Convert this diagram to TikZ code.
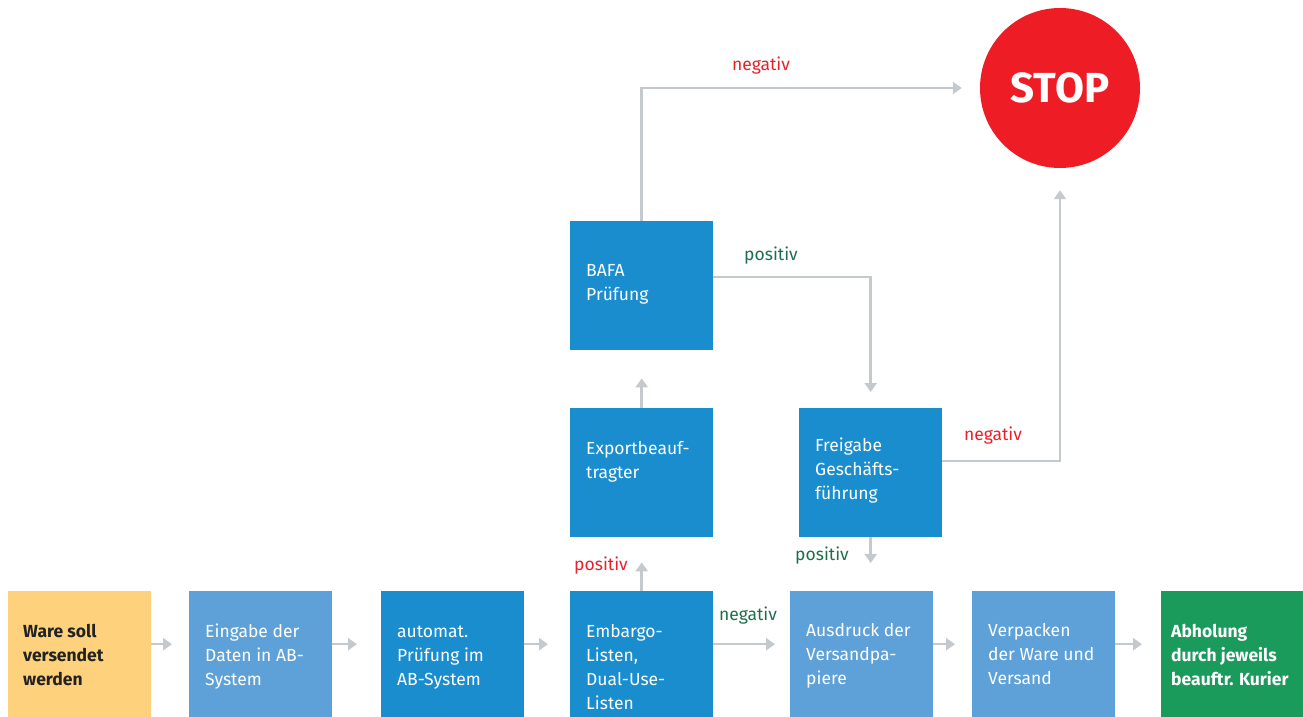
\documentclass[tikz,border=0pt]{standalone}
\usepackage{fontspec}
\setmainfont{Fira Sans}
\usetikzlibrary{arrows.meta}
\definecolor{cYel}{HTML}{FED27D}
\definecolor{cLight}{HTML}{5EA1D8}
\definecolor{cDark}{HTML}{198DCE}
\definecolor{cGreen}{HTML}{1A9A5B}
\definecolor{cRed}{HTML}{EE1C25}
\definecolor{cGray}{HTML}{C4C9CD}
\definecolor{cLabRed}{HTML}{E8202A}
\definecolor{cLabGreen}{HTML}{1E6E4E}
\definecolor{cInk}{HTML}{222222}
\tikzset{
  box/.style={draw=none, rectangle, anchor=north west, minimum width=143pt, inner sep=0pt},
  txt/.style={anchor=north west, inner sep=0pt, align=left, text=white, font={\fontsize{17.5}{24}\selectfont}},
  arr/.style={draw=cGray, line width=2.5pt, -{Triangle[width=12pt,length=9pt]}},
  lab/.style={inner sep=0pt, font={\fontsize{17.5}{24}\selectfont}},
}
\begin{document}
\begin{tikzpicture}[x=1pt,y=-1pt]
\useasboundingbox (0,0) rectangle (1303,717);
% boxes bottom row
\node[box, fill=cYel,   minimum height=126pt] (ware) at (8,591) {};
\node[box, fill=cLight, minimum height=126pt] (eing) at (189,591) {};
\node[box, fill=cDark,  minimum height=126pt] (auto) at (381,591) {};
\node[box, fill=cDark,  minimum height=126pt] (emb)  at (570,591) {};
\node[box, fill=cLight, minimum height=126pt] (ausd) at (790,591) {};
\node[box, fill=cLight, minimum height=126pt] (verp) at (972,591) {};
\node[box, fill=cGreen, minimum height=126pt, minimum width=142pt] (abh) at (1161,591) {};
% upper boxes
\node[box, fill=cDark, minimum height=129pt] (exp)  at (570,408) {};
\node[box, fill=cDark, minimum height=129pt] (bafa) at (570,221) {};
\node[box, fill=cDark, minimum height=129pt] (frei) at (799,408) {};
% stop
\node[circle, fill=cRed, minimum size=160pt, inner sep=0pt] (stop) at (1060,88) {};
\node[text=white, font={\fontsize{42}{48}\selectfont\bfseries}] (stoptxt) at (1060,88) {STOP};
% texts
\node[txt, text=cInk, font={\fontsize{17.5}{24}\selectfont\bfseries}] (tware) at (23,620) {\strut Ware soll\\versendet\\werden};
\node[txt] (teing) at (205,620) {\strut Eingabe der\\Daten in AB-\\System};
\node[txt] (tauto) at (397,620) {\strut automat.\\Prüfung im\\AB-System};
\node[txt] (temb)  at (586,620) {\strut Embargo-\\Listen,\\Dual-Use-\\Listen};
\node[txt] (tausd) at (806,619) {\strut Ausdruck der\\Versandpa-\\piere};
\node[txt] (tverp) at (988,619) {\strut Verpacken\\der Ware und\\Versand};
\node[txt, font={\fontsize{17.5}{24}\selectfont\bfseries}] (tabh) at (1171,620) {\strut Abholung\\durch jeweils\\beauftr. Kurier};
\node[txt] (texp)  at (586,437) {\strut Exportbeauf-\\tragter};
\node[txt] (tbafa) at (586,259) {\strut BAFA\\Prüfung};
\node[txt] (tfrei) at (815,434) {\strut Freigabe\\Geschäfts-\\führung};
% arrows bottom row
\draw[arr, shorten >=17pt] ([yshift=10pt]ware.east) -- ([yshift=10pt]eing.west);
\draw[arr, shorten >=24pt] ([yshift=10pt]eing.east) -- ([yshift=10pt]auto.west);
\draw[arr, shorten >=22pt] ([yshift=10pt]auto.east) -- ([yshift=10pt]emb.west);
\draw[arr, shorten >=15pt] ([yshift=10pt]emb.east) -- ([yshift=10pt]ausd.west);
\draw[arr, shorten >=17pt] ([yshift=10pt]ausd.east) -- ([yshift=10pt]verp.west);
\draw[arr, shorten >=19pt] ([yshift=10pt]verp.east) -- ([yshift=10pt]abh.west);
% vertical / branch arrows
\draw[arr, shorten >=25pt] (emb.north) -- (exp.south);
\draw[arr, shorten >=28pt] (exp.north) -- (bafa.south);
\draw[arr, shorten >=18pt] (bafa.north) |- (stop.west);
\draw[arr, shorten >=16pt] ([yshift=8.5pt]bafa.east) -| (frei.north);
\draw[arr, shorten >=22pt] ([yshift=11.5pt]frei.east) -| (stop.south);
\draw[arr, shorten >=28pt] (frei.south) -- (frei.south |- ausd.north);
% labels
\node[lab, text=cLabRed]   (l1) at (761,66)  {negativ};
\node[lab, text=cLabGreen] (l2) at (771,256) {positiv};
\node[lab, text=cLabRed]   (l3) at (993,436) {negativ};
\node[lab, text=cLabGreen] (l4) at (822,556) {positiv};
\node[lab, text=cLabRed]   (l5) at (601,566) {positiv};
\node[lab, text=cLabGreen] (l6) at (748,616) {negativ};
\end{tikzpicture}
\end{document}
